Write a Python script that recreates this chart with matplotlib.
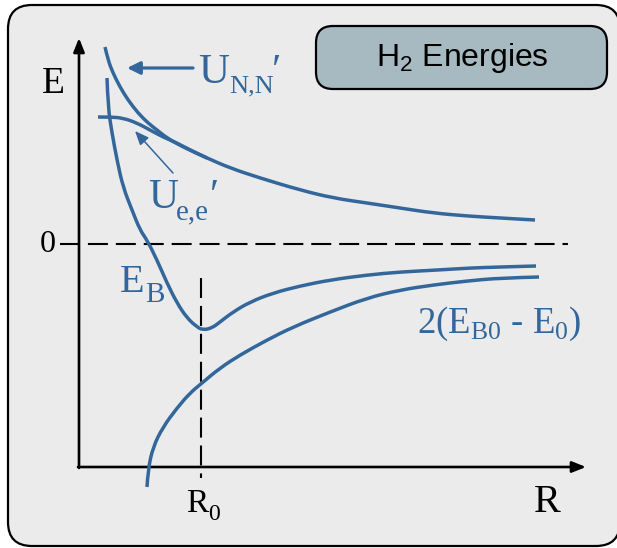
import matplotlib
matplotlib.use("Agg")
import matplotlib.pyplot as plt
from matplotlib.patches import FancyBboxPatch, PathPatch
from matplotlib.path import Path

plt.rcParams['mathtext.fontset'] = 'custom'
plt.rcParams['mathtext.rm'] = 'Liberation Serif'
plt.rcParams['mathtext.sf'] = 'Liberation Sans'

BLUE = '#33679b'
SERIF = ['Liberation Serif', 'DejaVu Serif']

# curves, as (R, E) points in drawing units (E grows downwards on screen)
unn_r = [105, 108, 113, 120, 128, 138, 148, 157, 167, 183, 207, 230, 260, 300, 333, 367, 400, 433, 467, 500, 535]
unn_e = [47, 60, 73, 87, 100, 113, 123, 130, 138, 147, 158, 168, 178, 190, 198, 203, 208, 213, 216, 218, 220]

uee_r = [98, 110, 123, 137, 150, 163, 177, 190, 207]
uee_e = [117, 117, 118, 123, 130, 137, 143, 150, 158]

eb_r = [107, 108, 112, 117, 123, 132, 140, 147, 157, 167, 177, 187, 197, 203, 212, 220, 233, 250, 273, 300, 330, 367, 400, 438, 470, 500, 536]
eb_e = [78, 107, 133, 160, 187, 210, 230, 240, 260, 283, 303, 318, 327, 330, 328, 322, 312, 302, 293, 286, 280, 275, 272, 270, 268, 267, 266]

e0_r = [147, 148, 153, 163, 177, 190, 202, 220, 240, 267, 293, 330, 367, 400, 433, 467, 500, 539]
e0_e = [487, 470, 447, 427, 408, 393, 383, 368, 355, 340, 327, 312, 298, 290, 285, 281, 278, 277]

# axis frame
ax_left, ax_bottom = 79, 467
ax_top, ax_right = 38, 586
zero_level = 244
r0 = 201


def smooth_curve(xs, ys):
    """Quadratic B-spline path through the midpoints, with the points as controls."""
    pts = list(zip(xs, ys))
    verts = [pts[0]]
    codes = [Path.MOVETO]
    for i in range(1, len(pts) - 1):
        mid = ((pts[i][0] + pts[i + 1][0]) / 2, (pts[i][1] + pts[i + 1][1]) / 2)
        if i == len(pts) - 2:
            mid = pts[-1]
        verts += [pts[i], mid]
        codes += [Path.CURVE3, Path.CURVE3]
    return Path(verts, codes)


fig = plt.figure(figsize=(6.17, 5.48), dpi=100)
fig.patch.set_facecolor('white')
ax = fig.add_axes([0, 0, 1, 1])
ax.set_xlim(0, 617)
ax.set_ylim(548, 0)
ax.axis('off')

# panel and title box
ax.add_patch(FancyBboxPatch((8, 5), 612, 541, boxstyle='round,pad=0,rounding_size=24',
                            fc='#ebebeb', ec='black', lw=1.6, zorder=0))
ax.add_patch(FancyBboxPatch((316, 26), 291, 63, boxstyle='round,pad=0,rounding_size=17',
                            fc='#a7b9c1', ec='black', lw=1.6, zorder=1))
ax.text(462, 58, r'H$_\mathsf{2}$ Energies', family=['Liberation Sans', 'DejaVu Sans'],
        fontsize=23, ha='center', va='center', color='black', zorder=2)

# axes with arrow heads
axis_arrow = dict(arrowstyle='-|>,head_length=0.55,head_width=0.22', color='black',
                  lw=1.9, shrinkA=0, shrinkB=0, mutation_scale=15)
ax.annotate('', xy=(ax_left, ax_top), xytext=(ax_left, ax_bottom + 1), arrowprops=axis_arrow)
ax.annotate('', xy=(ax_right, ax_bottom), xytext=(ax_left - 1, ax_bottom), arrowprops=axis_arrow)

# zero line and R0 marker
dash = (0, (9.6, 3.8))
ax.plot([60, 568], [zero_level, zero_level], color='black', lw=1.5, ls=dash)
ax.plot([r0, r0], [278, 478], color='black', lw=1.5, ls=dash)

# energy curves
for r, e in [(unn_r, unn_e), (uee_r, uee_e), (eb_r, eb_e), (e0_r, e0_e)]:
    ax.add_patch(PathPatch(smooth_curve(r, e), fill=False, ec=BLUE, lw=2.5,
                           capstyle='butt', joinstyle='round', zorder=3))

# pointers to the repulsion curves
ax.annotate('', xy=(127, 68), xytext=(193, 68),
            arrowprops=dict(arrowstyle='-|>,head_length=0.55,head_width=0.27', color=BLUE,
                            lw=2.3, shrinkA=0, shrinkB=0, mutation_scale=14))
ax.annotate('', xy=(135, 131), xytext=(173, 173),
            arrowprops=dict(arrowstyle='-|>,head_length=0.6,head_width=0.25', color=BLUE,
                            lw=1.1, shrinkA=0, shrinkB=0, mutation_scale=14))

# axis labels
ax.text(42, 93, 'E', family=SERIF, fontsize=27, color='black')
ax.text(40, 252, '0', family=SERIF, fontsize=23, color='black')
ax.text(186, 512, 'R', family=SERIF, fontsize=24, color='black')
ax.text(208, 520, '0', family=SERIF, fontsize=17, color='black')
ax.text(534, 512, 'R', family=SERIF, fontsize=29, color='black')

# curve labels, subscripts set as separate pieces
ax.text(198, 83, 'U', family=SERIF, fontsize=31, color=BLUE)
ax.text(229, 92, 'N,N', family=SERIF, fontsize=19, color=BLUE)
ax.text(272, 83, '′', family=SERIF, fontsize=31, color=BLUE)

ax.text(148, 208, 'U', family=SERIF, fontsize=30, color=BLUE)
ax.text(176, 219, 'e,e', family=SERIF, fontsize=21, color=BLUE)
ax.text(210, 208, '′', family=SERIF, fontsize=30, color=BLUE)

ax.text(120, 292, 'E', family=SERIF, fontsize=29, color=BLUE)
ax.text(145, 302, 'B', family=SERIF, fontsize=21, color=BLUE)

ax.text(417, 333, r'2(E$_\mathrm{B0}$ - E$_\mathrm{0}$)', family=SERIF, fontsize=26.5, color=BLUE)

fig.savefig('out.png', dpi=100, facecolor='white')
